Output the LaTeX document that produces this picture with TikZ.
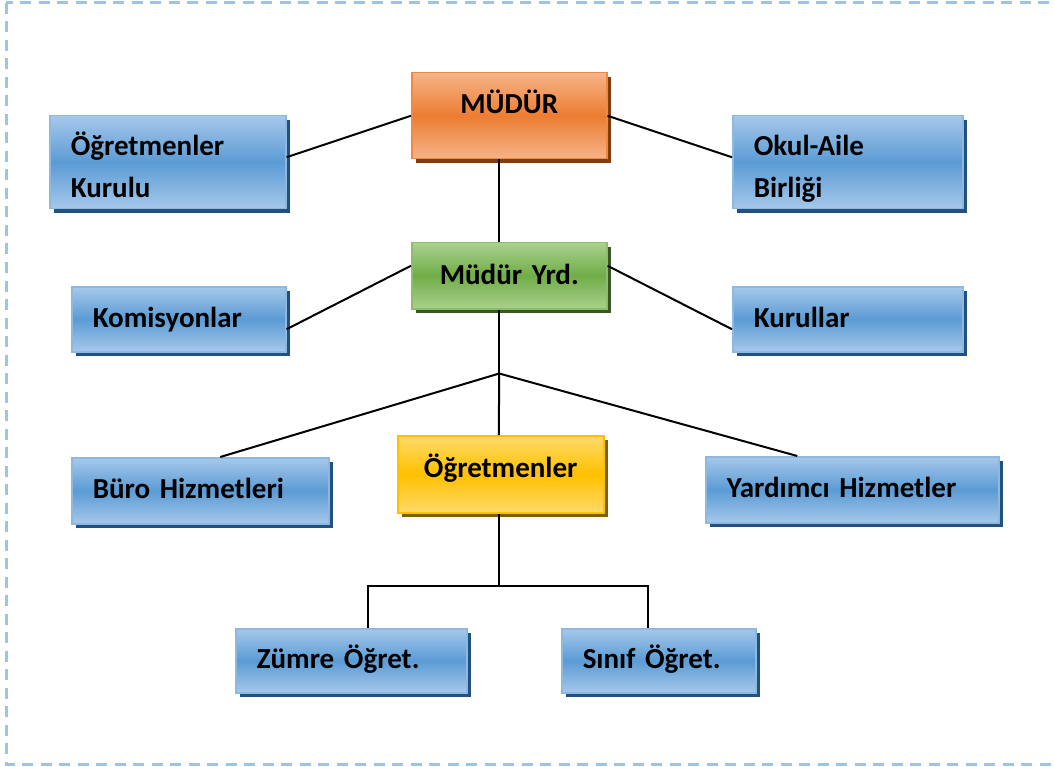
\documentclass[tikz,border=0pt]{standalone}
\usepackage{fontspec}
\setmainfont{Carlito}
\definecolor{bluelight}{HTML}{A6C8EA}
\definecolor{bluemid}{HTML}{5B9BD5}
\definecolor{blueedge}{HTML}{8DB8E2}
\definecolor{blueshadow}{HTML}{22507F}
\definecolor{orangelight}{HTML}{F6B48A}
\definecolor{orangemid}{HTML}{ED7D31}
\definecolor{orangeshadow}{HTML}{843C0C}
\definecolor{greenlight}{HTML}{A9D18E}
\definecolor{greenmid}{HTML}{70AD47}
\definecolor{greenshadow}{HTML}{385723}
\definecolor{yellowlight}{HTML}{FFDA6A}
\definecolor{yellowmid}{HTML}{FFC000}
\definecolor{yellowshadow}{HTML}{7F6000}
\definecolor{frameblue}{HTML}{9DC3E6}
\usetikzlibrary{calc,shadows}

\begin{document}
\begin{tikzpicture}[x=1pt, y=-1pt,
    box/.style={rectangle, line width=1.5pt, anchor=north west, inner xsep=21pt, inner ysep=0pt,
      align=left, text height=16pt, text depth=0pt, font=\bfseries\fontsize{29}{42}\selectfont},
    twoline/.style={text height=29pt, text depth=42pt},
    bluebox/.style={box, draw=blueedge, top color=bluelight, bottom color=bluelight, middle color=bluemid,
      drop shadow={shadow xshift=4pt, shadow yshift=-4pt, fill=blueshadow, opacity=1}},
    orangebox/.style={box, align=center, draw=orangemid!90!white, top color=orangelight, bottom color=orangelight,
      middle color=orangemid, drop shadow={shadow xshift=4pt, shadow yshift=-4pt, fill=orangeshadow, opacity=1}},
    greenbox/.style={box, align=center, draw=greenmid!80!white, top color=greenlight, bottom color=greenlight,
      middle color=greenmid, drop shadow={shadow xshift=4pt, shadow yshift=-4pt, fill=greenshadow, opacity=1}},
    yellowbox/.style={box, align=center, draw=yellowmid, top color=yellowlight, bottom color=yellowlight,
      middle color=yellowmid, drop shadow={shadow xshift=4pt, shadow yshift=-4pt, fill=yellowshadow, opacity=1}},
    link/.style={line width=2pt, black}
  ]
    \clip (0,0) rectangle (1054,767);
    % dashed frame
    \draw[frameblue, line width=3pt, dash pattern=on 11pt off 7.5pt] (6,3) rectangle (1080,764);

    % Row 1
    \node[orangebox, minimum width=195pt, minimum height=86pt, text width=153pt] (mudur) at (411,72)
      {\raisebox{10pt}{MÜDÜR}\hspace*{14pt}};
    \node[bluebox, twoline, minimum width=236pt, minimum height=93pt, text width=194pt] (kurulu) at (49,115)
      {Öğretmenler\\Kurulu};
    \node[bluebox, twoline, minimum width=230pt, minimum height=93pt, text width=188pt] (okulaile) at (732,115)
      {Okul-Aile\\Birliği};

    % Row 2
    \node[greenbox, minimum width=195pt, minimum height=66pt, text width=153pt] (yrd) at (411,242)
      {\raisebox{-1pt}{Müdür Yrd.}\hspace*{12pt}};
    \node[bluebox, minimum width=214pt, minimum height=65pt, text width=172pt] (komisyon) at (71,286) {Komisyonlar};
    \node[bluebox, minimum width=230pt, minimum height=65pt, text width=188pt] (kurullar) at (732,286) {Kurullar};

    % Row 3
    \node[yellowbox, minimum width=206pt, minimum height=77pt, text width=164pt] (ogretmen) at (397,435)
      {\raisebox{5pt}{Öğretmenler}\hspace*{7pt}};
    \node[bluebox, minimum width=257pt, minimum height=66pt, text width=215pt] (buro) at (71,457) {Büro Hizmetleri};
    \node[bluebox, minimum width=293pt, minimum height=66pt, text width=251pt] (yardimci) at (705,456) {Yardımcı Hizmetler};

    % Row 4
    \node[bluebox, minimum width=231pt, minimum height=64pt, text width=189pt] (zumre) at (235,628) {Zümre Öğret.};
    \node[bluebox, minimum width=194pt, minimum height=64pt, text width=152pt] (sinif) at (561,628) {Sınıf Öğret.};

    \coordinate (j1) at ($(yrd.south)+(-10,64)$);
    \coordinate (j2) at ($(ogretmen.south)+(-2,72)$);

    % links
    \draw[link] (mudur.west) -- ($(kurulu.east)+(0,-5)$);
    \draw[link] (mudur.east) -- ($(okulaile.west)+(0,-5)$);
    \draw[link] ($(mudur.south)+(-10,0)$) -- ($(yrd.north)+(-10,0)$);
    \draw[link] ($(yrd.west)+(0,-10)$) -- ($(komisyon.east)+(0,10)$);
    \draw[link] ($(yrd.east)+(0,-10)$) -- ($(kurullar.west)+(0,10)$);
    \draw[link] ($(yrd.south)+(-10,0)$) -- (j1);
    \draw[link] (j1) -- ($(buro.north)+(20,0)$);
    \draw[link] (j1) -- ($(ogretmen.north)+(-2,0)$);
    \draw[link] (j1) -- ($(yardimci.north)+(-55,0)$);
    \draw[link] ($(ogretmen.south)+(-2,0)$) -- (j2);
    \draw[link] ($(zumre.north)+(17,0)$) |- (j2) -| ($(sinif.north)+(-11,0)$);

  \end{tikzpicture}
\end{document}
